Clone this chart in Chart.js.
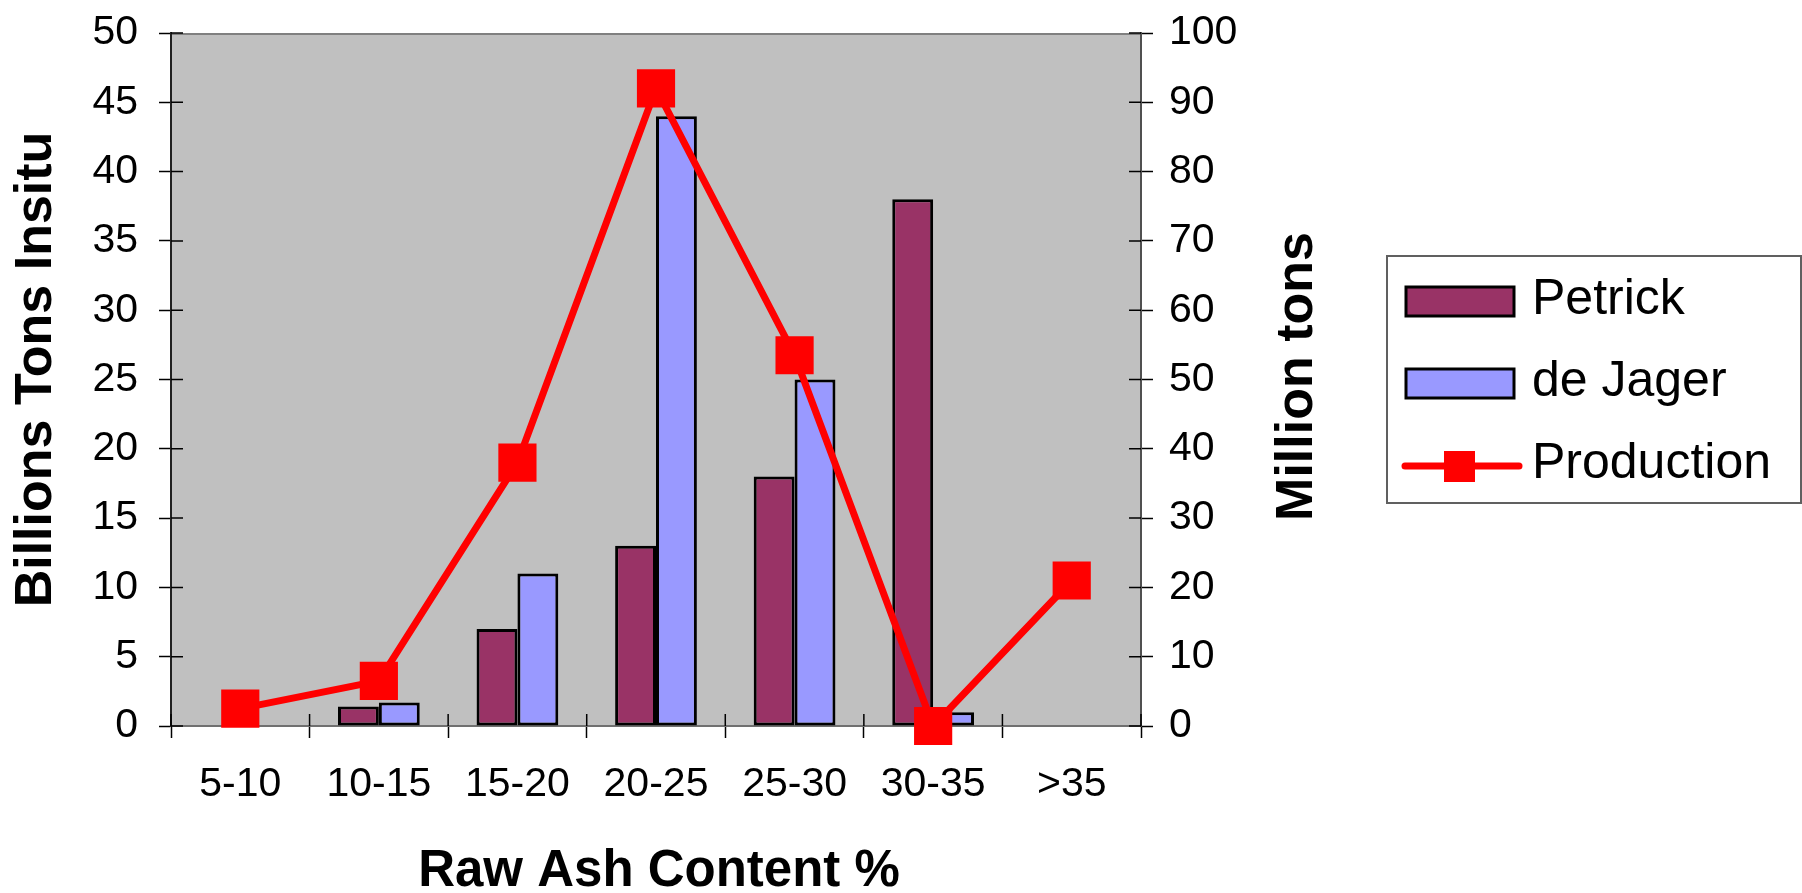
<!DOCTYPE html>
<html>
<head>
<meta charset="utf-8">
<script src="https://cdn.jsdelivr.net/npm/chart.js@4/dist/chart.umd.min.js"></script>
<style>
  html, body { margin: 0; padding: 0; background: #ffffff; }
  #wrap { width: 1802px; height: 893px; }
</style>
</head>
<body>
<div id="wrap"><canvas id="chart" width="1802" height="893"></canvas></div>
<script>
// Raw ash content classes (%)
const categories = ['5-10', '10-15', '15-20', '20-25', '25-30', '30-35', '>35'];

// In-situ reserves, billions of tons (left axis)
const petrick = [null, 1.4, 7, 13, 18, 38, null];
const deJager = [null, 1.7, 11, 44, 25, 1, null];

// Production, million tons (right axis)
const production = [2.5, 6.5, 38, 92, 53.5, 0, 21];

const seriesNames = ['Petrick', 'de Jager', 'Production'];
const xTitle = 'Raw Ash Content %';
const leftTitle = 'Billions Tons Insitu';
const rightTitle = 'Million tons';

const FONT = "'Liberation Sans', Arial, sans-serif";
const tickFont = { family: FONT, size: 41 };

// Grey plot area, top frame line and the inner half of the "cross" tick marks
const plotFrame = {
  id: 'plotFrame',
  beforeDraw(chart) {
    const { ctx, chartArea: a } = chart;
    ctx.save();
    ctx.fillStyle = '#c0c0c0';
    ctx.fillRect(a.left, a.top, a.right - a.left, a.bottom - a.top);
    ctx.strokeStyle = '#808080';
    ctx.lineWidth = 2;
    ctx.beginPath();
    ctx.moveTo(a.left, a.top + 1);
    ctx.lineTo(a.right, a.top + 1);
    ctx.stroke();
    ctx.restore();
  },
  beforeDatasetsDraw(chart) {
    const { ctx, chartArea: a, scales } = chart;
    const len = 12;
    ctx.save();
    ctx.strokeStyle = '#000';
    ctx.lineWidth = 1.5;
    ctx.beginPath();
    const xs = scales.x;
    const step = xs.getPixelForValue(1) - xs.getPixelForValue(0);
    for (let i = 0; i <= categories.length; i++) {
      const px = xs.getPixelForValue(0) - step / 2 + i * step;
      ctx.moveTo(px, a.bottom);
      ctx.lineTo(px, a.bottom - len);
    }
    scales.y.ticks.forEach(t => {
      const py = scales.y.getPixelForValue(t.value);
      ctx.moveTo(a.left, py);
      ctx.lineTo(a.left + len, py);
    });
    scales.y1.ticks.forEach(t => {
      const py = scales.y1.getPixelForValue(t.value);
      ctx.moveTo(a.right, py);
      ctx.lineTo(a.right - len, py);
    });
    ctx.stroke();
    ctx.restore();
  }
};

// Axis titles: bottom one under the plot, both vertical ones read upwards
const axisTitles = {
  id: 'axisTitles',
  afterDraw(chart) {
    const { ctx, chartArea: a } = chart;
    ctx.save();
    ctx.fillStyle = '#000';
    ctx.textAlign = 'center';
    ctx.textBaseline = 'middle';
    ctx.font = 'bold 51px ' + FONT;
    ctx.fillText(xTitle, (a.left + a.right) / 2 + 3, chart.height - 21);

    const drawVertical = (text, x, y) => {
      ctx.save();
      ctx.translate(x, y);
      ctx.rotate(-Math.PI / 2);
      ctx.fillText(text, 0, 0);
      ctx.restore();
    };
    const midY = (a.top + a.bottom) / 2;
    ctx.font = 'bold 52px ' + FONT;
    drawVertical(leftTitle, 37, midY - 10);
    drawVertical(rightTitle, a.right + 157, midY - 3);
    ctx.restore();
  }
};

// Framed legend box to the right of the chart
const boxLegend = {
  id: 'boxLegend',
  afterDraw(chart) {
    const { ctx } = chart;
    const ds = chart.data.datasets;
    const left = 1387, top = 256, w = 414, h = 247;
    ctx.save();
    ctx.strokeStyle = '#606060';
    ctx.lineWidth = 2;
    ctx.strokeRect(left, top, w, h);

    ctx.font = '50px ' + FONT;
    ctx.textAlign = 'left';
    ctx.textBaseline = 'alphabetic';
    ds.forEach((d, i) => {
      const base = top + 58 + i * 82;
      if (d.type === 'line') {
        const cy = base - 12;
        ctx.strokeStyle = d.borderColor;
        ctx.lineWidth = 7;
        ctx.lineCap = 'round';
        ctx.beginPath();
        ctx.moveTo(left + 18, cy);
        ctx.lineTo(left + 132, cy);
        ctx.stroke();
        ctx.fillStyle = d.backgroundColor;
        ctx.fillRect(left + 57, cy - 15, 31, 31);
      } else {
        ctx.fillStyle = d.backgroundColor;
        ctx.fillRect(left + 19, base - 27, 108, 29);
        ctx.strokeStyle = '#000';
        ctx.lineWidth = 3;
        ctx.strokeRect(left + 19, base - 27, 108, 29);
      }
      ctx.fillStyle = '#000';
      ctx.fillText(d.label, left + 145, base);
    });
    ctx.restore();
  }
};

new Chart(document.getElementById('chart'), {
  type: 'bar',
  data: {
    labels: categories,
    datasets: [
      {
        type: 'bar', label: seriesNames[0], data: petrick, yAxisID: 'y',
        backgroundColor: '#993366', borderColor: '#000000', borderWidth: 3,
        borderSkipped: false, order: 2
      },
      {
        type: 'bar', label: seriesNames[1], data: deJager, yAxisID: 'y',
        backgroundColor: '#9999ff', borderColor: '#000000', borderWidth: 3,
        borderSkipped: false, order: 2
      },
      {
        type: 'line', label: seriesNames[2], data: production, yAxisID: 'y1',
        borderColor: '#ff0000', backgroundColor: '#ff0000', borderWidth: 7,
        pointStyle: 'rect', pointRadius: 27, pointBorderWidth: 0,
        pointBackgroundColor: '#ff0000', tension: 0, clip: false, order: 1
      }
    ]
  },
  options: {
    responsive: false,
    animation: false,
    layout: { padding: { top: 33, right: 421, left: 0, bottom: 0 } },
    datasets: { bar: { categoryPercentage: 0.59, barPercentage: 1 } },
    plugins: { legend: { display: false }, tooltip: { enabled: false } },
    scales: {
      x: {
        offset: true,
        grid: { display: true, offset: true, drawOnChartArea: false, drawTicks: true,
                tickLength: 12, tickColor: '#000', tickWidth: 1.5 },
        border: { display: true, color: '#707070', width: 2 },
        ticks: { font: tickFont, color: '#000', padding: 22, maxRotation: 0, autoSkip: false },
        afterFit(s) { s.height = 167; s.paddingLeft = 0; s.paddingRight = 0; }
      },
      y: {
        position: 'left', min: 0, max: 50,
        grid: { display: true, drawOnChartArea: false, drawTicks: true,
                tickLength: 12, tickColor: '#000', tickWidth: 1.5 },
        border: { display: true, color: '#202020', width: 2 },
        ticks: { stepSize: 5, font: tickFont, color: '#000', padding: 21 },
        afterFit(s) { s.width = 171; s.paddingTop = 0; s.paddingBottom = 0; }
      },
      y1: {
        position: 'right', min: 0, max: 100,
        grid: { display: true, drawOnChartArea: false, drawTicks: true,
                tickLength: 12, tickColor: '#000', tickWidth: 1.5 },
        border: { display: true, color: '#505050', width: 2 },
        ticks: { stepSize: 10, font: tickFont, color: '#000', padding: 16 },
        afterFit(s) { s.width = 240; s.paddingTop = 0; s.paddingBottom = 0; }
      }
    }
  },
  plugins: [plotFrame, axisTitles, boxLegend]
});
</script>
</body>
</html>
